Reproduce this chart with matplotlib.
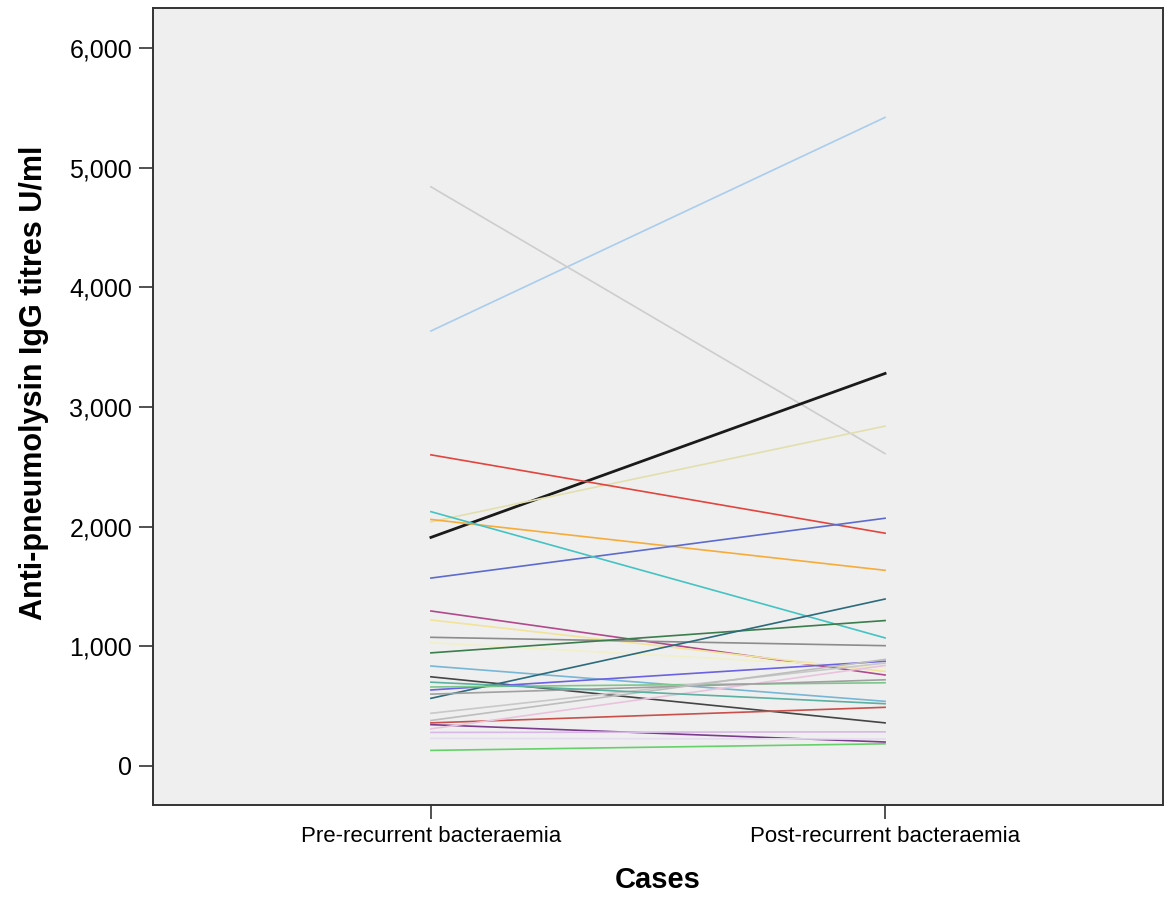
import numpy as np
import matplotlib
matplotlib.use("Agg")
import matplotlib.pyplot as plt

plt.rcParams["font.family"] = ["Liberation Sans", "DejaVu Sans"]

# x categories
cats = ["Pre-recurrent bacteraemia", "Post-recurrent bacteraemia"]

# per-patient titres (U/ml)
pre = [3635, 4840, 1910, 2040, 2600, 2060, 1570, 2125, 1295, 1220,
       1075, 1030, 945, 835, 745, 635, 565, 660, 440, 360,
       345, 280, 310, 130, 230, 600, 380, 700]
post = [5420, 2610, 3280, 2840, 1945, 1635, 2070, 1070, 760, 790,
        1005, 820, 1215, 540, 360, 875, 1395, 695, 860, 490,
        200, 285, 840, 185, 225, 720, 890, 520]
colors = ["#a9cdee", "#cdcdcd", "#1a1a1a", "#e2dfae", "#e0453e", "#f6ac3a",
          "#5d6ccc", "#45c3c3", "#b14a8c", "#f2e39a", "#8c8c8c", "#f1f0c8",
          "#3b7d4c", "#78b6d6", "#454545", "#6a62e0", "#2c6b7c", "#7cc78a",
          "#c8c8c8", "#c9504a", "#7b3c8c", "#d8b8e6", "#e9c3dc", "#66d16a",
          "#e4dcef", "#a0a0a0", "#bdbdbd", "#5bb0a0"]
widths = [1.2] * len(pre)
widths[2] = 2.0

fig = plt.figure(figsize=(11.65, 9.01), dpi=100)
ax = fig.add_axes([0.1313, 0.1066, 0.867, 0.8845])
ax.set_facecolor("#efefef")

x = [0, 1]
for a, b, c, w in zip(pre, post, colors, widths):
    ax.plot(x, [a, b], color=c, lw=w)

ax.set_xlim(-0.612, 1.612)
ax.set_ylim(-326, 6334)
ax.set_xticks(x)
ax.set_xticklabels(cats, fontsize=16)
yt = np.arange(0, 7000, 1000)
ax.set_yticks(yt)
ax.set_yticklabels([f"{v:,}" for v in yt], fontsize=18)
ax.tick_params(length=10, width=1.2, color="#333333", pad=5)
for sp in ax.spines.values():
    sp.set_color("#333333"); sp.set_linewidth(1.4)
ax.set_xlabel("Cases", fontsize=21, fontweight="bold", labelpad=14)
ax.set_ylabel("Anti-pneumolysin IgG titres U/ml", fontsize=22, fontweight="bold")
ax.yaxis.set_label_coords(-0.103, 0.53)

fig.savefig("out.png", dpi=100)
